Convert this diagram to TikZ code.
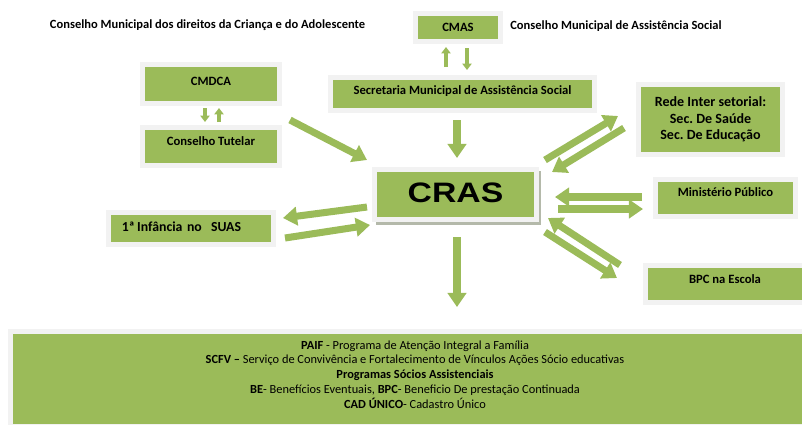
\documentclass[tikz,border=0pt]{standalone}
\usepackage{fontspec}
\setmainfont{Carlito}
\newfontfamily\arialfont{Liberation Sans}
\usetikzlibrary{arrows.meta}
\definecolor{verde}{HTML}{9BBB59}
\definecolor{moldura}{HTML}{F2F2F2}
\definecolor{sombra}{HTML}{B4B9AA}
\frenchspacing

\begin{document}
\begin{tikzpicture}[x=0.025cm, y=-0.025cm,
  caixa/.style={fill=verde, draw=moldura, line width=3.5pt, inner sep=0pt, align=center,
    font=\bfseries\fontsize{9}{11.5}\selectfont},
  rotulo/.style={text height=6pt, text depth=#1},
  seta/.style={verde, line width=5pt, -{Triangle[width=13pt,length=10pt]}},
  setinha/.style={verde, line width=3.2pt, -{Triangle[width=6.5pt,length=4.5pt]}}]

\useasboundingbox (0,0) rectangle (802,424);

% titulos
\node[font=\bfseries\fontsize{8.9}{10}\selectfont] (tcmdca) at (207.5,25) {Conselho Municipal dos direitos da Criança e do Adolescente};
\node[font=\bfseries\fontsize{8.9}{10}\selectfont] (tcmas) at (616,26) {Conselho Municipal de Assistência Social};

% caixas
\node[caixa, rotulo=4pt, minimum width=3.425cm, minimum height=0.975cm] (cmdca) at (211,84) {CMDCA};
\node[caixa, rotulo=8pt, minimum width=3.425cm, minimum height=0.95cm] (tutelar) at (211,146.5) {Conselho Tutelar};
\node[caixa, rotulo=0pt, minimum width=2.125cm, minimum height=0.7cm] (cmas) at (458,27.5) {CMAS};
\node[caixa, rotulo=5pt, minimum width=6.6cm, minimum height=0.825cm] (secretaria) at (462.5,94) {Secretaria Municipal de Assistência Social};
\node[caixa, minimum width=3.6cm, minimum height=1.75cm, font=\bfseries\fontsize{10}{11.7}\selectfont] (rede) at (710.5,119.5) {Rede Inter setorial:\\Sec. De Saúde\\Sec. De Educação};
\node[caixa, rotulo=8pt, minimum width=3.5cm, minimum height=0.925cm] (ministerio) at (725.5,198) {Ministério Público};
\node[caixa, rotulo=7pt, minimum width=3.975cm, minimum height=0.925cm] (bpc) at (725,284) {BPC na Escola};
\node[caixa, rotulo=2pt, minimum width=4.125cm, minimum height=0.8cm, text width=3.45cm, align=left,
  font=\bfseries\fontsize{9.8}{12}\selectfont] (infancia) at (191,228.5) {1ª\kern-1.5pt\ Infância no\ \ SUAS};

\fill[sombra] (376,171) rectangle (541,225);
\node[caixa, minimum width=4.05cm, minimum height=1.25cm, font=\arialfont\bfseries\fontsize{20}{22}\selectfont,
  text height=15pt, text depth=4pt] (cras) at (455.5,194.5) {\scalebox{1.2}[1]{CRAS}};

\node[caixa, minimum width=19.85cm, minimum height=2.375cm] (programas) at (407.5,379) {};
\node[font=\fontsize{8.8}{10.5}\selectfont, align=center] (texto) at (415,374.5)
  {\textbf{PAIF} - Programa de Atenção Integral a Família\\
   \textbf{SCFV –} Serviço de Convivência e Fortalecimento de Vínculos Ações Sócio educativas\\
   \textbf{Programas Sócios Assistenciais}\\
   \textbf{BE}- Benefícios Eventuais, \textbf{BPC}- Beneficio De prestação Continuada\\
   \textbf{CAD ÚNICO}- Cadastro Único};

% pontas das setas
\coordinate (cmdca-s) at (205,108);
\coordinate (tutelar-n) at (205,122);
\coordinate (tutelar-n2) at (219,122);
\coordinate (cmdca-s2) at (219,108);
\coordinate (cmas-s) at (446,47);
\coordinate (secretaria-n) at (446,67);
\coordinate (cmas-s2) at (467,48);
\coordinate (secretaria-n2) at (467,70);

\coordinate (tutelar-e) at (290,120);
\coordinate (cras-nw) at (367,160);
\coordinate (secretaria-s) at (457,120);
\coordinate (cras-n) at (457,158);
\coordinate (cras-ne) at (545,160);
\coordinate (rede-sw) at (618,116);
\coordinate (rede-sw2) at (624,128);
\coordinate (cras-ne2) at (552,172);
\coordinate (ministerio-w) at (642,197);
\coordinate (cras-e) at (555,197);
\coordinate (cras-e2) at (558,209);
\coordinate (ministerio-w2) at (643,209);
\coordinate (bpc-nw) at (620,265);
\coordinate (cras-se) at (548,218);
\coordinate (cras-se2) at (545,232);
\coordinate (bpc-nw2) at (617,278);
\coordinate (cras-w) at (367,207);
\coordinate (infancia-e) at (283,218);
\coordinate (infancia-e2) at (285,238);
\coordinate (cras-w2) at (370,225);
\coordinate (cras-s) at (457,237);
\coordinate (programas-n) at (457,307);

% setas
\draw[setinha] (cmdca-s) -- (tutelar-n);
\draw[setinha] (tutelar-n2) -- (cmdca-s2);
\draw[setinha] (secretaria-n) -- (cmas-s);
\draw[setinha] (cmas-s2) -- (secretaria-n2);

\draw[seta] (tutelar-e) -- (cras-nw);
\draw[seta] (secretaria-s) -- (cras-n);
\draw[seta] (cras-ne) -- (rede-sw);
\draw[seta] (rede-sw2) -- (cras-ne2);
\draw[seta] (ministerio-w) -- (cras-e);
\draw[seta] (cras-e2) -- (ministerio-w2);
\draw[seta] (bpc-nw) -- (cras-se);
\draw[seta] (cras-se2) -- (bpc-nw2);
\draw[seta] (cras-w) -- (infancia-e);
\draw[seta] (infancia-e2) -- (cras-w2);
\draw[seta] (cras-s) -- (programas-n);

\end{tikzpicture}
\end{document}
